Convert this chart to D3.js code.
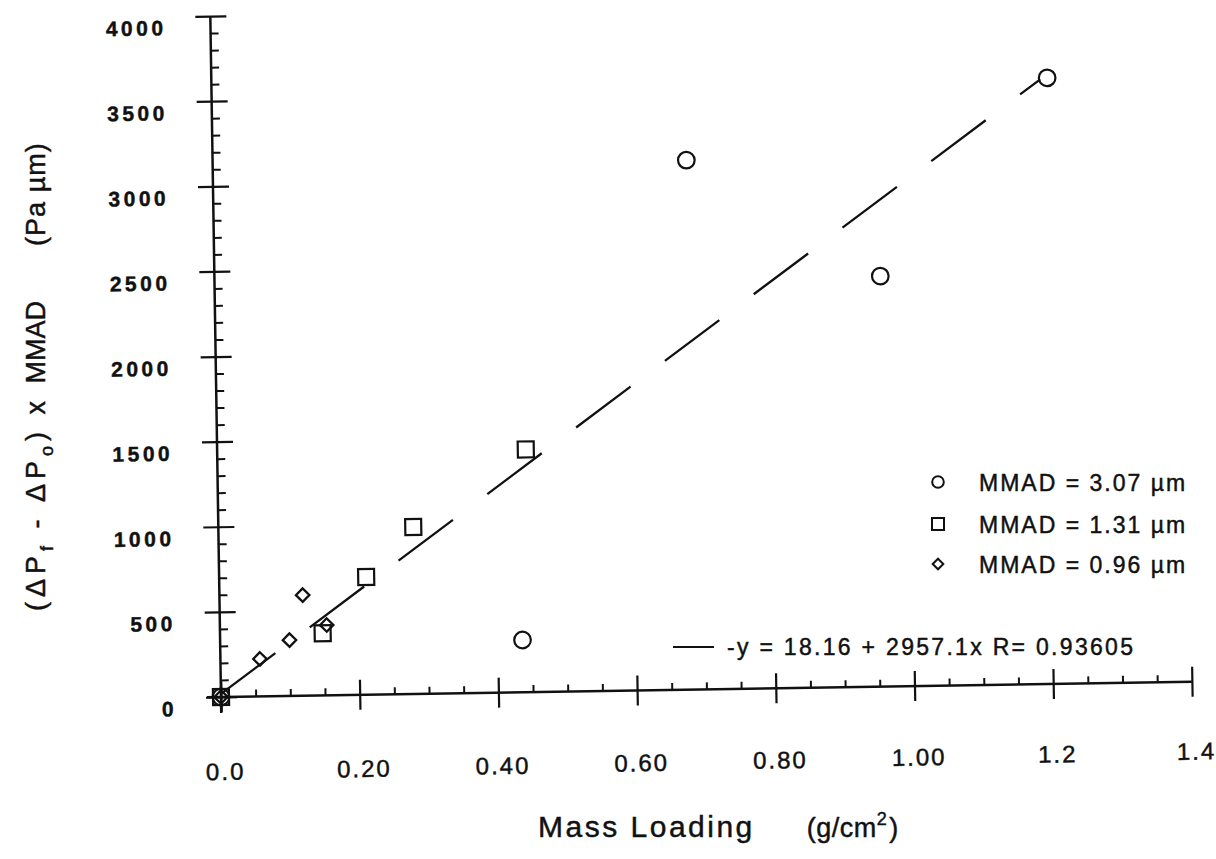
<!DOCTYPE html>
<html>
<head>
<meta charset="utf-8">
<script src="https://cdn.jsdelivr.net/npm/d3@7"></script>
<style>
  body { margin: 0; background: #fff; }
  svg { display: block; }
  text { font-family: "Liberation Sans", Arial, Helvetica, sans-serif; fill: #111; stroke: #111; stroke-width: 0.45px; }
</style>
</head>
<body>
<svg id="chart" width="1216" height="859"></svg>
<script>
// Measured points: mass loading (g/cm2) vs pressure-drop rise x MMAD (Pa um)
const circleX  = [0, 0.436, 0.683, 0.960, 1.205];
const circleY  = [0, 307, 3110, 2411, 3560];
const squareX  = [0, 0.148, 0.212, 0.281, 0.445];
const squareY  = [0, 365, 691, 981, 1426];
const diamondX = [0, 0.057, 0.100, 0.120, 0.154];
const diamondY = [0, 220, 328, 591, 413];

// Least-squares fit over all points
const fitIntercept = 18.16;
const fitSlope = 2957.1;
const fitR = 0.93605;
const fitXRange = [0, 1.195];

const xTickValues = [0, 0.2, 0.4, 0.6, 0.8, 1.0, 1.2, 1.4];
const xTickLabels = ["0.0", "0.20", "0.40", "0.60", "0.80", "1.00", "1.2", "1.4"];
const xMinorValues = d3.range(0, 1.4, 0.05).filter((d, i) => i % 4 !== 0);
const yTickValues = [0, 500, 1000, 1500, 2000, 2500, 3000, 3500, 4000];
const yTickLabels = ["0", "500", "1000", "1500", "2000", "2500", "3000", "3500", "4000"];
const yMinorValues = d3.range(0, 4000, 100).filter((d, i) => i % 5 !== 0);

const legendLabels = ["MMAD = 3.07 \u00B5m", "MMAD = 1.31 \u00B5m", "MMAD = 0.96 \u00B5m"];
const fitLabel = "-y = 18.16 + 2957.1x R= " + fitR;

const svg = d3.select("#chart");
const ink = "#111";

// plotting frame: origin at lower-left of the axes, slightly tilted
const W = 971, H = 681;
const plot = svg.append("g").attr("transform", "translate(221,697) rotate(-0.9)");

const x = d3.scaleLinear().domain([0, 1.4]).range([0, W]);
const y = d3.scaleLinear().domain([0, 4000]).range([0, -H]);

// ---- x axis ----
const xAxis = plot.append("g")
  .call(d3.axisBottom(x).tickValues(xTickValues)
    .tickFormat((d, i) => xTickLabels[i]).tickSizeOuter(0).tickSize(15));
xAxis.select(".domain").remove();
xAxis.selectAll(".tick line").attr("y1", -15).attr("y2", 15)
  .attr("stroke", ink).attr("stroke-width", 2.2);
// label row rises a little toward the right end
xAxis.selectAll(".tick text")
  .attr("y", d => 83 - 5 * d / 1.4).attr("dy", null).attr("dx", 3)
  .attr("fill", ink)
  .style("font-size", "24px").style("letter-spacing", "2px")
  .style("font-family", "'Liberation Sans', Arial, sans-serif");

const xMinor = plot.append("g")
  .call(d3.axisTop(x).tickValues(xMinorValues).tickFormat("").tickSizeOuter(0).tickSize(7));
xMinor.select(".domain").remove();
xMinor.selectAll(".tick line").attr("stroke", ink).attr("stroke-width", 2);

plot.append("line").attr("x1", -14).attr("x2", x(1.4)).attr("y1", 0).attr("y2", 0)
  .attr("stroke", ink).attr("stroke-width", 2.5);

// ---- y axis ----
const yAxis = plot.append("g")
  .call(d3.axisLeft(y).tickValues(yTickValues)
    .tickFormat((d, i) => yTickLabels[i]).tickSizeOuter(0).tickSize(15));
yAxis.select(".domain").remove();
yAxis.selectAll(".tick line").attr("x1", -15).attr("x2", 16)
  .attr("stroke", ink).attr("stroke-width", 2.2);
yAxis.selectAll(".tick text")
  .attr("x", -44).attr("dy", 18)
  .attr("fill", ink)
  .style("font-size", "21px").style("font-weight", "bold").style("letter-spacing", "3.5px")
  .style("font-family", "'Liberation Sans', Arial, sans-serif");

const yMinor = plot.append("g")
  .call(d3.axisRight(y).tickValues(yMinorValues).tickFormat("").tickSizeOuter(0).tickSize(8));
yMinor.select(".domain").remove();
yMinor.selectAll(".tick line").attr("stroke", ink).attr("stroke-width", 2);

plot.append("line").attr("x1", 0).attr("x2", 0).attr("y1", 16).attr("y2", y(4000))
  .attr("stroke", ink).attr("stroke-width", 2.5);

// ---- fit line (long dashes) ----
plot.append("path")
  .datum(fitXRange)
  .attr("d", d3.line().x(d => x(d)).y(d => y(fitIntercept + fitSlope * d)))
  .attr("fill", "none").attr("stroke", ink).attr("stroke-width", 2.3)
  .attr("stroke-dasharray", "68 43");

// ---- markers ----
const circles = circleX.map((v, i) => [v, circleY[i]]);
const squares = squareX.map((v, i) => [v, squareY[i]]);
const diamonds = diamondX.map((v, i) => [v, diamondY[i]]);

plot.selectAll("circle.pt").data(circles).join("circle")
  .attr("class", "pt")
  .attr("cx", d => x(d[0])).attr("cy", d => y(d[1])).attr("r", 8.3)
  .attr("fill", "none").attr("stroke", ink).attr("stroke-width", 2.2);

plot.selectAll("rect.pt").data(squares).join("rect")
  .attr("class", "pt")
  .attr("x", d => x(d[0]) - 8).attr("y", d => y(d[1]) - 8)
  .attr("width", 16).attr("height", 16)
  .attr("fill", "none").attr("stroke", ink).attr("stroke-width", 2.2);

const dia = d3.symbol().type(d3.symbolDiamond2).size(115);
plot.selectAll("path.dm").data(diamonds).join("path")
  .attr("class", "dm")
  .attr("transform", d => `translate(${x(d[0])},${y(d[1])})`)
  .attr("d", dia)
  .attr("fill", "none").attr("stroke", ink).attr("stroke-width", 2.3);

// ---- legend ----
const legend = svg.append("g");
const legendRows = [482, 524, 564];
const legendSym = ["circle", "square", "diamond"];
legendRows.forEach((ly, i) => {
  if (legendSym[i] === "circle") {
    legend.append("circle").attr("cx", 938).attr("cy", ly).attr("r", 5.8)
      .attr("fill", "none").attr("stroke", ink).attr("stroke-width", 2);
  } else if (legendSym[i] === "square") {
    legend.append("rect").attr("x", 932).attr("y", ly - 6).attr("width", 12).attr("height", 12)
      .attr("fill", "none").attr("stroke", ink).attr("stroke-width", 2);
  } else {
    legend.append("path").attr("transform", `translate(938,${ly})`)
      .attr("d", d3.symbol().type(d3.symbolDiamond2).size(72))
      .attr("fill", "none").attr("stroke", ink).attr("stroke-width", 2);
  }
  legend.append("text").attr("x", 979).attr("y", ly + 8.5)
    .style("font-size", "23px").style("letter-spacing", "2px")
    .text(legendLabels[i]);
});
legend.append("line").attr("x1", 673).attr("x2", 714).attr("y1", 647).attr("y2", 647)
  .attr("stroke", ink).attr("stroke-width", 2.2);
legend.append("text").attr("x", 727).attr("y", 655)
  .style("font-size", "23px").style("letter-spacing", "2.3px")
  .text(fitLabel);

// ---- axis titles ----
const xt = svg.append("text").attr("x", 538).attr("y", 837)
  .style("font-size", "30px").style("letter-spacing", "2.5px");
xt.append("tspan").text("Mass Loading");
xt.append("tspan").attr("dx", 52).style("letter-spacing", "0.5px").style("font-size", "27px").text("(g/cm");
xt.append("tspan").attr("dy", -12).style("font-size", "18px").text("2");
xt.append("tspan").attr("dy", 12).style("font-size", "27px").text(")");

const yt = svg.append("text").attr("transform", "translate(45,611) rotate(-90)")
  .style("font-size", "27px").style("letter-spacing", "5px");
yt.append("tspan").text("(\u0394P");
yt.append("tspan").attr("dy", 8).style("font-size", "18px").text("f");
yt.append("tspan").attr("dy", -8).text(" - \u0394P");
yt.append("tspan").attr("dy", 8).style("font-size", "18px").text("o");
yt.append("tspan").attr("dy", -8).text(") x ");
yt.append("tspan").style("letter-spacing", "0px").text("MMAD");
yt.append("tspan").attr("dx", 55).style("letter-spacing", "1px").text("(Pa \u00B5m)");
</script>
</body>
</html>
